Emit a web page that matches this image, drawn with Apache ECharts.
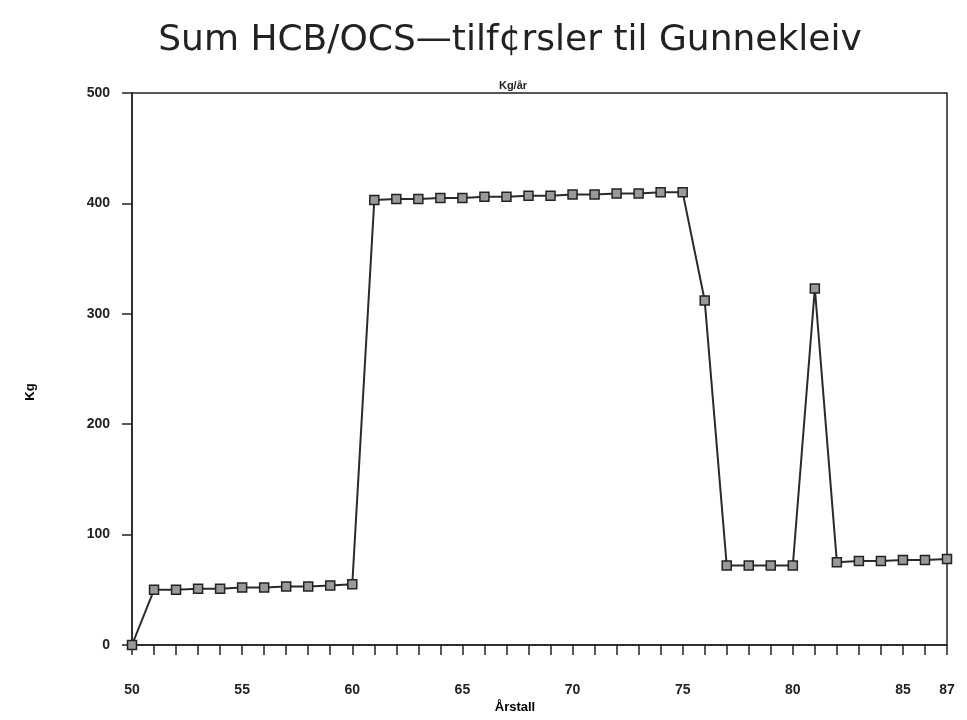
<!DOCTYPE html>
<html>
<head>
<meta charset="utf-8">
<script src="https://cdn.jsdelivr.net/npm/echarts@6/dist/echarts.min.js"></script>
<style>
  html, body { margin: 0; padding: 0; background: #fff; }
  #chart { width: 967px; height: 720px; }
</style>
</head>
<body>
<div id="chart"></div>
<script>
// årstall (x) og kg/år (y), lest av figuren
const years = [50, 51, 52, 53, 54, 55, 56, 57, 58, 59, 60,
  61, 62, 63, 64, 65, 66, 67, 68, 69, 70, 71, 72, 73, 74, 75,
  76, 77, 78, 79, 80, 81, 82, 83, 84, 85, 86, 87]
const kg = [0, 50, 50, 51, 51, 52, 52, 53, 53, 54, 55,
  403, 404, 404, 405, 405, 406, 406, 407, 407, 408, 408, 409, 409, 410, 410,
  312, 72, 72, 72, 72, 323, 75, 76, 76, 77, 77, 78]
const xTickLabels = [50, 55, 60, 65, 70, 75, 80, 85, 87]

const chart = echarts.init(document.getElementById('chart'))

const labelFont = {
  color: '#222',
  fontFamily: 'Liberation Sans',
  fontWeight: 'bold',
  fontSize: 14
}

const option = {
  animation: false,
  backgroundColor: '#fff',
  title: [
    {
      text: 'Sum HCB/OCS—tilf¢rsler til Gunnekleiv',
      left: 505,
      top: 18,
      textAlign: 'center',
      textStyle: { fontFamily: 'DejaVu Sans', fontWeight: 'normal', fontSize: 36, color: '#222' }
    },
    {
      text: 'Kg/år',
      left: 508,
      top: 75,
      textAlign: 'center',
      textStyle: { fontFamily: 'Liberation Sans', fontWeight: 'bold', fontSize: 11, color: '#222' }
    }
  ],
  // aksetitler
  graphic: [
    {
      type: 'text',
      x: 30,
      y: 392,
      rotation: Math.PI / 2,
      style: { text: 'Kg', ...labelFont, fontSize: 13, align: 'center', verticalAlign: 'middle' }
    },
    {
      type: 'text',
      x: 515,
      y: 707,
      style: { text: 'Årstall', ...labelFont, fontSize: 13, align: 'center', verticalAlign: 'middle' }
    }
  ],
  grid: {
    left: 132,
    right: 20,
    top: 93,
    bottom: 75,
    show: true,
    borderColor: '#222',
    borderWidth: 1.5
  },
  xAxis: {
    type: 'value',
    min: 50,
    max: 87,
    interval: 1,
    axisLine: { lineStyle: { color: '#222', width: 1.5 } },
    axisTick: { inside: false, length: 10, lineStyle: { color: '#222', width: 1.5 } },
    splitLine: { show: false },
    axisLabel: {
      ...labelFont,
      margin: 38,
      formatter: v => (xTickLabels.includes(v) ? String(v) : '')
    }
  },
  yAxis: {
    type: 'value',
    min: 0,
    max: 500,
    interval: 100,
    axisLine: { show: true, lineStyle: { color: '#222', width: 1.5 } },
    axisTick: { show: true, inside: false, length: 10, lineStyle: { color: '#222', width: 1.5 } },
    splitLine: { show: false },
    axisLabel: { ...labelFont, margin: 22 }
  },
  series: [{
    type: 'line',
    data: years.map((y, i) => [y, kg[i]]),
    symbol: 'rect',
    symbolSize: 9,
    showAllSymbol: true,
    lineStyle: { color: '#2a2a2a', width: 2 },
    itemStyle: { color: '#999', borderColor: '#222', borderWidth: 1.5 }
  }]
}

chart.setOption(option)
</script>
</body>
</html>
